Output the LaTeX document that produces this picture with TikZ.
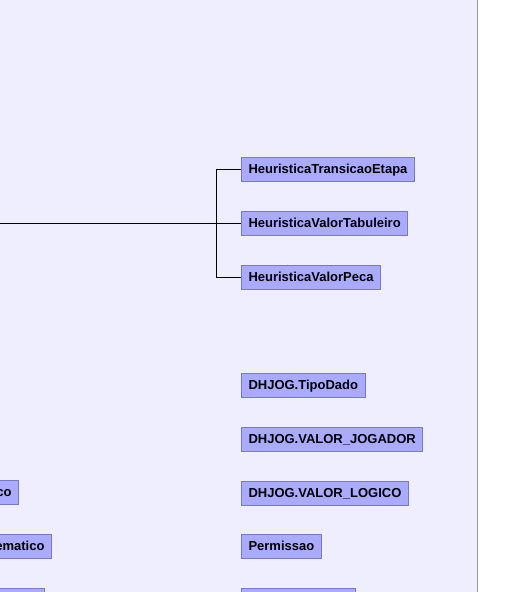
\documentclass[tikz,border=0pt]{standalone}
\usepackage{fontspec}
\setmainfont{Liberation Sans}
\definecolor{canvas}{RGB}{238,238,255}
\definecolor{boxfill}{RGB}{170,170,255}
\definecolor{boxline}{RGB}{120,120,200}
\definecolor{edgeline}{RGB}{150,150,175}
\begin{document}
\begin{tikzpicture}[x=1pt,y=-1pt,
  cls/.style={draw=boxline, fill=boxfill, line width=1pt, font=\fontsize{13}{15}\selectfont\bfseries,
    anchor=west, inner xsep=7pt, inner ysep=0pt, minimum height=24pt, text height=10.5pt, text depth=1.5pt},
  clsr/.style={cls, anchor=east},
  link/.style={draw=black, line width=0.8pt}]
\useasboundingbox (0,0) rectangle (526,592);
\clip (0,0) rectangle (526,592);
% canvas and its border
\fill[white] (0,0) rectangle (526,592);
\fill[canvas] (0,0) rectangle (477,592);
\draw[edgeline, line width=1pt] (477,0) -- (477,592);

% heuristic classes
\node[cls] (het) at (241,169) {HeuristicaTransicaoEtapa};
\node[cls] (hvt) at (241,223) {HeuristicaValorTabuleiro};
\node[cls] (hvp) at (241,277) {HeuristicaValorPeca};

% other classes
\node[cls] (tipo) at (241,385) {DHJOG.TipoDado};
\node[cls] (vjog) at (241,439) {DHJOG.VALOR\_JOGADOR};
\node[cls] (vlog) at (241,493) {DHJOG.VALOR\_LOGICO};
\node[cls] (perm) at (241,546) {Permissao};
\node[cls, minimum width=114pt] (next) at (241,600) {};

% classes cut by the left edge
\node[clsr] (lco) at (19,492) {co};
\node[clsr] (lmat) at (52,546) {ematico};
\node[clsr, minimum width=80pt] (lnext) at (45,600) {};

% inheritance connector
\coordinate (src) at (-5,223);
\coordinate (junc) at (216,223);
\draw[link] (src) -- (hvt.west);
\draw[link] (het.west) -| (junc);
\draw[link] (hvp.west) -| (junc);
\end{tikzpicture}
\end{document}
